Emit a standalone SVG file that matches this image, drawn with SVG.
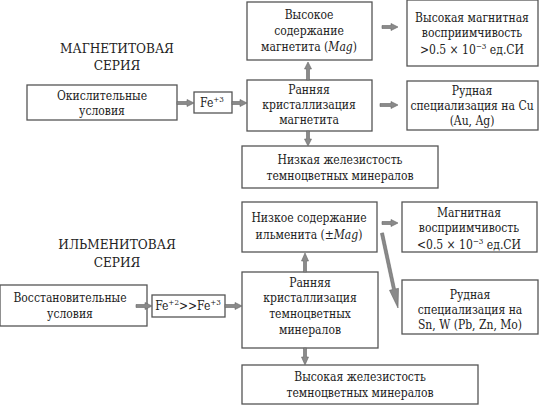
<svg xmlns="http://www.w3.org/2000/svg" width="543" height="407" viewBox="0 0 543 407">
<style>
.b{fill:#fff;stroke:#555;stroke-width:1.3}
text{font-family:'DejaVu Serif Condensed','DejaVu Serif',serif;font-size:12px;fill:#222;text-anchor:middle}
.t{font-size:13.5px}
.a{fill:#8a8a8a;stroke:#666;stroke-width:0.6}
.sup{font-size:8px}
</style>
<rect width="543" height="407" fill="#fff"/>
<g id="title1"><text class="t" x="117" y="53">МАГНЕТИТОВАЯ</text><text class="t" x="117" y="70">СЕРИЯ</text></g>
<g id="title2"><text class="t" x="117" y="249">ИЛЬМЕНИТОВАЯ</text><text class="t" x="117" y="267">СЕРИЯ</text></g>
<g id="ox"><rect class="b" x="27" y="85" width="150" height="35"/><text x="102" y="100">Окислительные</text><text x="102" y="115">условия</text></g>
<g id="fe3"><rect class="b" x="194" y="92" width="38" height="21"/><text x="212" y="107">Fe<tspan class="sup" dy="-5">+3</tspan></text></g>
<g id="early1"><rect class="b" x="247" y="80" width="125" height="51"/><text x="309" y="94">Ранняя</text><text x="309" y="109">кристаллизация</text><text x="309" y="124">магнетита</text></g>
<g id="highmag"><rect class="b" x="247" y="2" width="125" height="58"/><text x="309" y="19">Высокое</text><text x="309" y="35">содержание</text><text x="309" y="51">магнетита (<tspan font-style="italic">Mag</tspan>)</text></g>
<g id="highsus"><rect class="b" x="407" y="0" width="131" height="66"/><text x="472" y="22">Высокая магнитная</text><text x="472" y="37">восприимчивость</text><text x="472" y="54">&gt;0.5 × 10<tspan class="sup" dy="-5">−3</tspan><tspan dy="5"> ед.СИ</tspan></text></g>
<g id="cu"><rect class="b" x="407" y="81" width="131" height="49"/><text x="472" y="95">Рудная</text><text x="472" y="110">специализация на Cu</text><text x="472" y="125">(Au, Ag)</text></g>
<g id="lowfe"><rect class="b" x="242" y="146" width="196" height="42"/><text x="340" y="164">Низкая железистость</text><text x="340" y="180">темноцветных минералов</text></g>
<g id="lowilm"><rect class="b" x="242" y="202" width="135" height="50"/><text x="309" y="222">Низкое содержание</text><text x="309" y="239">ильменита (±<tspan font-style="italic">Mag</tspan>)</text></g>
<g id="lowsus"><rect class="b" x="402" y="202" width="135" height="50"/><text x="469" y="217">Магнитная</text><text x="469" y="232">восприимчивость</text><text x="469" y="249">&lt;0.5 × 10<tspan class="sup" dy="-5">−3</tspan><tspan dy="5"> ед.СИ</tspan></text></g>
<g id="red"><rect class="b" x="0" y="285" width="147" height="41"/><text x="70" y="302">Восстановительные</text><text x="70" y="318">условия</text></g>
<g id="fe2"><rect class="b" x="152" y="295" width="73" height="22"/><text x="188" y="310">Fe<tspan class="sup" dy="-5">+2</tspan><tspan dy="5">&gt;&gt;Fe</tspan><tspan class="sup" dy="-5">+3</tspan></text></g>
<g id="early2"><rect class="b" x="242" y="272" width="136" height="76"/><text x="310" y="287">Ранняя</text><text x="310" y="302">кристаллизация</text><text x="310" y="318">темноцветных</text><text x="310" y="334">минералов</text></g>
<g id="sn"><rect class="b" x="402" y="280" width="136" height="54"/><text x="470" y="299">Рудная</text><text x="470" y="314">специализация на</text><text x="470" y="329">Sn, W (Pb, Zn, Mo)</text></g>
<g id="highfe"><rect class="b" x="242" y="365" width="236" height="39"/><text x="360" y="381">Высокая железистость</text><text x="360" y="397">темноцветных минералов</text></g>
<g id="connectors">
<polygon class="a" points="177,101.5 187,101.5 187,99.5 194,103 187,106.5 187,104.5 177,104.5"/>
<polygon class="a" points="232,101.5 240,101.5 240,99.5 247,103 240,106.5 240,104.5 232,104.5"/>
<polygon class="a" points="306.5,80 306.5,69 304.5,69 308,62 311.5,69 309.5,69 309.5,80"/>
<polygon class="a" points="382,25.5 391,25.5 391,23.5 398,27 391,30.5 391,28.5 382,28.5"/>
<polygon class="a" points="380,103.5 391,103.5 391,101.5 398,105 391,108.5 391,106.5 380,106.5"/>
<polygon class="a" points="306.5,131 306.5,139 304.5,139 308,146 311.5,139 309.5,139 309.5,131"/>
<polygon class="a" points="382,221.5 391,221.5 391,219.5 398,223 391,226.5 391,224.5 382,224.5"/>
<polygon class="a" points="380.5,233.5 383.5,232.8 395.5,289 398.5,288.3 398,308 389.5,290.3 392.5,289.6"/>
<polygon class="a" points="303.5,272 303.5,261 301.5,261 305,253 308.5,261 306.5,261 306.5,272"/>
<polygon class="a" points="303.5,348 303.5,357 301.5,357 305,365 308.5,357 306.5,357 306.5,348"/>
<polygon class="a" points="136,304.5 145,304.5 145,302.5 152,306 145,309.5 145,307.5 136,307.5"/>
<polygon class="a" points="225,304.5 235,304.5 235,302.5 242,306 235,309.5 235,307.5 225,307.5"/>
</g>
</svg>
